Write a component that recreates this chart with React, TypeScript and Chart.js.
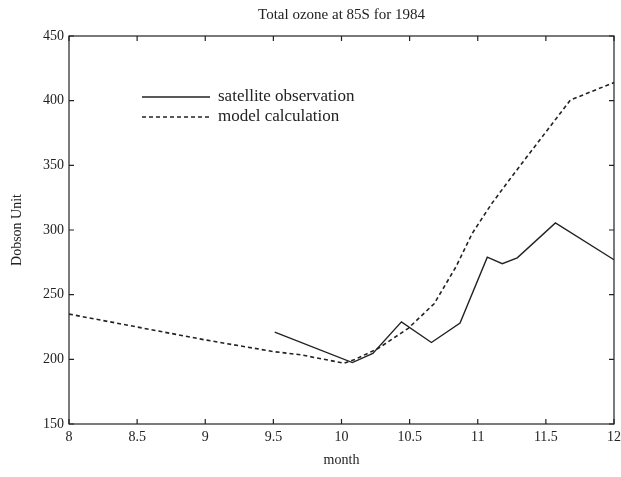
import React, { useEffect, useRef } from "react";
import { Chart, registerables } from "chart.js";

Chart.register(...registerables);

const chartTitle = "Total ozone at 85S for 1984";
const xAxisTitle = "month";
const yAxisTitle = "Dobson Unit";

const satelliteLabel = "satellite observation";
const satelliteMonths = [9.51, 10.08, 10.23, 10.44, 10.66, 10.87, 11.07, 11.18, 11.29, 11.57, 12];
const satelliteValues = [221, 197.5, 204.5, 229, 213, 228, 279, 274, 278.5, 305.5, 277];

const modelLabel = "model calculation";
const modelMonths = [8, 8.5, 9, 9.5, 9.7, 10.02, 10.1, 10.27, 10.49, 10.68, 10.84, 10.96, 11.1, 11.23, 11.4, 11.68, 12];
const modelValues = [235, 225, 215, 206, 203.5, 197, 200, 208.5, 224, 243, 271.5, 297.5, 320, 338.5, 362, 400.5, 414];

const monthTicks = [8, 8.5, 9, 9.5, 10, 10.5, 11, 11.5, 12];
const monthTickLabels = ["8", "8.5", "9", "9.5", "10", "10.5", "11", "11.5", "12"];
const valueTicks = [150, 200, 250, 300, 350, 400, 450];

const INK = "#222";
const SERIF = "'Liberation Serif', 'Times New Roman', serif";

const framePlugin = {
  id: "frame",
  afterDatasetsDraw(chart: any) {
    const { ctx, chartArea, scales } = chart;
    const { left, right, top, bottom } = chartArea;
    const x = scales.x;
    const y = scales.y;
    ctx.save();
    ctx.strokeStyle = INK;
    ctx.lineWidth = 1.2;
    ctx.strokeRect(left, top, right - left, bottom - top);
    const t = 5;
    ctx.beginPath();
    x.ticks.forEach((tk: any) => {
      const px = x.getPixelForValue(tk.value);
      ctx.moveTo(px, bottom);
      ctx.lineTo(px, bottom - t);
      ctx.moveTo(px, top);
      ctx.lineTo(px, top + t);
    });
    y.ticks.forEach((tk: any) => {
      const py = y.getPixelForValue(tk.value);
      ctx.moveTo(left, py);
      ctx.lineTo(left + t, py);
      ctx.moveTo(right, py);
      ctx.lineTo(right - t, py);
    });
    ctx.stroke();
    ctx.restore();
  },
};

const innerLegendPlugin = {
  id: "innerLegend",
  afterDatasetsDraw(chart: any) {
    const { ctx, chartArea } = chart;
    const x0 = chartArea.left + 73;
    const y0 = chartArea.top + 61;
    const lineLen = 68;
    const rowGap = 20;
    ctx.save();
    ctx.font = `17px ${SERIF}`;
    ctx.textBaseline = "middle";
    ctx.textAlign = "left";
    chart.data.datasets.forEach((ds: any, i: number) => {
      const yy = y0 + i * rowGap;
      ctx.strokeStyle = ds.borderColor;
      ctx.lineWidth = ds.borderWidth;
      ctx.setLineDash(ds.borderDash || []);
      ctx.beginPath();
      ctx.moveTo(x0, yy);
      ctx.lineTo(x0 + lineLen, yy);
      ctx.stroke();
      ctx.setLineDash([]);
      ctx.fillStyle = INK;
      ctx.fillText(ds.label, x0 + lineLen + 8, yy);
    });
    ctx.restore();
  },
};

export default function App() {
  const canvasRef = useRef<HTMLCanvasElement | null>(null);

  useEffect(() => {
    const canvas = canvasRef.current;
    if (!canvas) return;
    const chart = new Chart(canvas, {
      type: "line",
      data: {
        datasets: [
          {
            label: satelliteLabel,
            data: satelliteMonths.map((m, i) => ({ x: m, y: satelliteValues[i] })),
            borderColor: INK,
            borderWidth: 1.4,
            pointRadius: 0,
            tension: 0,
            fill: false,
          },
          {
            label: modelLabel,
            data: modelMonths.map((m, i) => ({ x: m, y: modelValues[i] })),
            borderColor: INK,
            borderWidth: 1.6,
            borderDash: [4, 3],
            pointRadius: 0,
            tension: 0,
            fill: false,
          },
        ],
      },
      options: {
        responsive: false,
        animation: false,
        layout: { padding: { left: 0, right: 7, top: 0, bottom: 0 } },
        plugins: {
          legend: { display: false },
          tooltip: { enabled: false },
          title: {
            display: true,
            text: chartTitle,
            fullSize: false,
            color: INK,
            font: { family: SERIF, size: 15, weight: "normal" },
            padding: { top: 6, bottom: 12 },
          },
        },
        scales: {
          x: {
            type: "linear",
            min: 8,
            max: 12,
            afterBuildTicks: (s: any) => {
              s.ticks = monthTicks.map((v) => ({ value: v }));
            },
            afterFit: (s: any) => {
              s.height = 53;
              s.paddingRight = 0;
              s.paddingLeft = 0;
            },
            ticks: {
              color: INK,
              font: { family: SERIF, size: 14 },
              padding: 5,
              maxRotation: 0,
              autoSkip: false,
              callback: (v: any) => {
                const i = monthTicks.indexOf(Number(v));
                return i >= 0 ? monthTickLabels[i] : String(v);
              },
            },
            grid: { display: false, drawTicks: false },
            border: { display: false },
            title: {
              display: true,
              text: xAxisTitle,
              color: INK,
              font: { family: SERIF, size: 14 },
              padding: { top: 0, bottom: 8 },
            },
          },
          y: {
            type: "linear",
            min: 150,
            max: 450,
            afterBuildTicks: (s: any) => {
              s.ticks = valueTicks.map((v) => ({ value: v }));
            },
            afterFit: (s: any) => {
              s.width = 69;
              s.paddingTop = 0;
              s.paddingBottom = 0;
            },
            ticks: {
              color: INK,
              font: { family: SERIF, size: 14 },
              padding: 5,
              autoSkip: false,
            },
            grid: { display: false, drawTicks: false },
            border: { display: false },
            title: {
              display: true,
              text: yAxisTitle,
              color: INK,
              font: { family: SERIF, size: 14 },
              padding: { top: 9, bottom: 0 },
            },
          },
        },
      },
      plugins: [framePlugin, innerLegendPlugin],
    } as any);
    return () => chart.destroy();
  }, []);

  return (
    <div style={{ position: "absolute", left: 0, top: 0, width: 621, height: 477, background: "#fff" }}>
      <canvas ref={canvasRef} width={621} height={477} style={{ display: "block" }} />
    </div>
  );
}
